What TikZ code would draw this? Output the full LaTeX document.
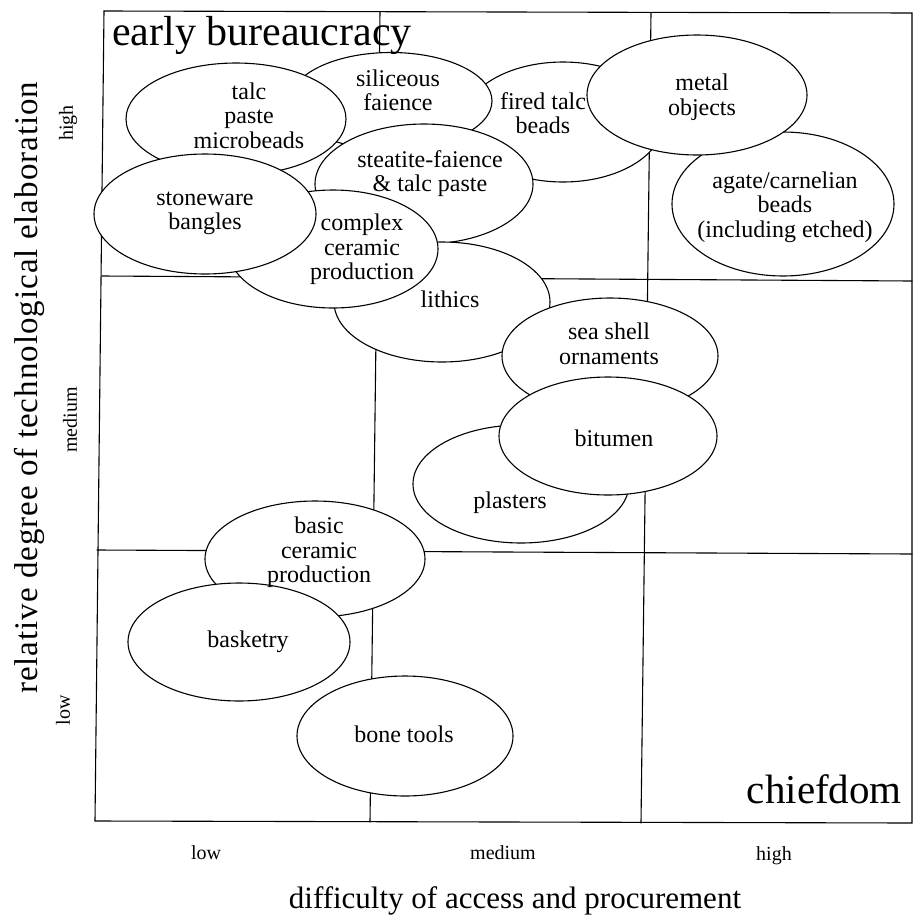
\documentclass[tikz,border=0pt]{standalone}
\usepackage{fontspec}
\setmainfont{Liberation Serif}
\usetikzlibrary{shapes.geometric}
\tikzset{
  gridline/.style={line width=1.1pt, line cap=round},
  blob/.style={ellipse, draw, line width=1.1pt, fill=white, inner sep=0pt},
  itemtext/.style={font=\fontsize{24}{24.5}\selectfont, align=center, inner sep=0pt},
  ticktext/.style={font=\fontsize{20}{22}\selectfont, inner sep=0pt},
  axistext/.style={inner sep=0pt},
}
\begin{document}
\begin{tikzpicture}[x=1pt,y=-1pt]
\useasboundingbox[fill=white] (0,0) rectangle (914,919);

% grid corners
\coordinate (tl) at (104,11);
\coordinate (tr) at (912,13);
\coordinate (bl) at (95,821);
\coordinate (br) at (912,823);
\coordinate (h1l) at (102,276);
\coordinate (h1r) at (912,281);
\coordinate (h2l) at (97,550);
\coordinate (h2r) at (912,554);
\coordinate (v1t) at (380,12);
\coordinate (v1b) at (370,822);
\coordinate (v2t) at (651,13);
\coordinate (v2b) at (641,823);

\draw[gridline] (tl) -- (tr) -- (br) -- (bl) -- cycle;
\draw[gridline] (h1l) -- (h1r);
\draw[gridline] (h2l) -- (h2r);
\draw[gridline] (v1t) -- (v1b);
\draw[gridline] (v2t) -- (v2b);

% ellipses, bottom to top
\node[blob, minimum width=200pt, minimum height=120pt] (fired) at (563,122) {};
\node[blob, minimum width=202pt, minimum height=97pt] (silic) at (391,101) {};
\node[blob, minimum width=218pt, minimum height=120pt] (steat) at (424,184) {};
\node[blob, minimum width=220pt, minimum height=112pt] (talc) at (236,119) {};
\node[blob, minimum width=216pt, minimum height=120pt] (lith) at (442,302) {};
\node[blob, minimum width=210pt, minimum height=118pt] (cplx) at (333,249) {};
\node[blob, minimum width=222pt, minimum height=120pt] (stone) at (205,214) {};
\node[blob, minimum width=222pt, minimum height=144pt] (agate) at (783,204) {};
\node[blob, minimum width=220pt, minimum height=120pt] (metal) at (697,95) {};
\node[blob, minimum width=216pt, minimum height=116pt] (shell) at (610,356) {};
\node[blob, minimum width=216pt, minimum height=118pt] (plast) at (521,484) {};
\node[blob, minimum width=218pt, minimum height=118pt] (bitu) at (608,436) {};
\node[blob, minimum width=220pt, minimum height=116pt] (basic) at (315,559) {};
\node[blob, minimum width=222pt, minimum height=118pt] (bask) at (239,642) {};
\node[blob, minimum width=216pt, minimum height=120pt] (bone) at (405,736) {};

% ellipse texts
\node[itemtext] (firedT) at (543,116.6) {\strut fired talc\\beads\strut};
\node[itemtext] (silicT) at (398,93.6) {\strut siliceous\\faience\strut};
\node[itemtext] (steatT) at (430,174.6) {\strut steatite-faience\\\&\ talc paste\strut};
\node[itemtext] (talcT) at (249,118.6) {\strut talc\\paste\\microbeads\strut};
\node[itemtext] (lithT) at (450,302.1) {\strut lithics\strut};
\node[itemtext] (cplxT) at (362,250.1) {\strut complex\\ceramic\\production\strut};
\node[itemtext] (stoneT) at (205,212.6) {\strut stoneware\\bangles\strut};
\node[itemtext] (agateT) at (785,207.6) {\strut agate/carnelian\\beads\\(including etched)\strut};
\node[itemtext] (metalT) at (702,98.1) {\strut metal\\objects\strut};
\node[itemtext] (shellT) at (609,347.1) {\strut sea shell\\ornaments\strut};
\node[itemtext] (plastT) at (510,503.1) {\strut plasters\strut};
\node[itemtext] (bituT) at (614,441.1) {\strut bitumen\strut};
\node[itemtext] (basicT) at (319,553.1) {\strut basic\\ceramic\\production\strut};
\node[itemtext] (baskT) at (248,642.1) {\strut basketry\strut};
\node[itemtext] (boneT) at (404,737.1) {\strut bone tools\strut};

% corner labels
\node[axistext, anchor=base west, font=\fontsize{42}{45}\selectfont] (early) at (112,45) {early bureaucracy};
\node[axistext, anchor=base east, font=\fontsize{41}{45}\selectfont] (chief) at (902,803) {chiefdom};

% axes
\node[axistext, anchor=base, font=\fontsize{31}{34}\selectfont] (xlab) at (515,908) {difficulty of access and procurement};
\node[axistext, rotate=90, anchor=west, font=\fontsize{33}{36}\selectfont\addfontfeature{LetterSpace=3}] (ylab) at (29,694) {relative degree of technological elaboration};

\node[ticktext, anchor=base] (xlow) at (206,859) {low};
\node[ticktext, anchor=base] (xmed) at (503,859) {medium};
\node[ticktext, anchor=base] (xhigh) at (774,860) {high};
\node[ticktext, rotate=90] (ylow) at (63,710) {low};
\node[ticktext, rotate=90] (ymed) at (70,420) {medium};
\node[ticktext, rotate=90] (yhigh) at (68,123) {high};
\end{tikzpicture}
\end{document}
